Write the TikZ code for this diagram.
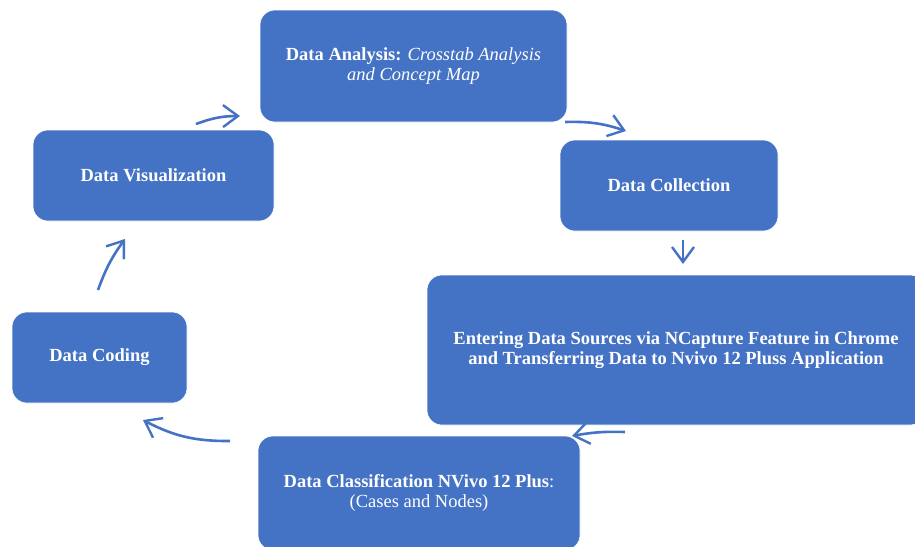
\documentclass[tikz,border=0pt]{standalone}
\usepackage{fontspec}
\setmainfont{Liberation Serif}
\usetikzlibrary{arrows.meta}
\definecolor{boxblue}{HTML}{4472C4}
\tikzset{
  stage/.style={draw=white, line width=0.6pt, fill=boxblue, rounded corners=15pt,
    text=white, align=center, inner sep=0pt,
    font=\fontsize{18.5}{20.5}\selectfont\bfseries},
  flow/.style={draw=boxblue, line width=2.6pt,
    -{Straight Barb[length=15pt,width=22pt,line width=2.4pt]}}
}
\begin{document}
\begin{tikzpicture}[x=1pt,y=-1pt]
\useasboundingbox (0,0) rectangle (915,546);
\begin{scope}
\clip (0,0) rectangle (915,546);
\node[stage, minimum width=307pt, minimum height=112pt] (ana) at (413.5,66)
  {Data Analysis: \mdseries\itshape Crosstab Analysis\\\mdseries\itshape and Concept Map};
\node[stage, minimum width=241pt, minimum height=91pt] (viz) at (153.5,175.5) {Data Visualization};
\node[stage, minimum width=218pt, minimum height=91pt] (col) at (669,185.5) {Data Collection};
\node[stage, minimum width=498pt, minimum height=150pt] (ent) at (676,350)
  {Entering Data Sources via NCapture Feature in Chrome\\and Transferring Data to Nvivo 12 Pluss Application};
\node[stage, minimum width=175pt, minimum height=91pt] (cod) at (99.5,357.5) {Data Coding};
\node[stage, minimum width=322pt, minimum height=114pt] (cls) at (419,493)
  {Data Classification NVivo 12 Plus\mdseries:\\\mdseries(Cases and Nodes)};
\end{scope}
\coordinate (a1s) at (196,124); \coordinate (a1e) at (240,116);
\coordinate (a2s) at (565,122); \coordinate (a2e) at (626,131);
\coordinate (a3s) at (683,240); \coordinate (a3e) at (683,264);
\coordinate (a4s) at (625,432); \coordinate (a4e) at (572,436);
\coordinate (a5s) at (230,441); \coordinate (a5e) at (143,420);
\coordinate (a6s) at (98,290);  \coordinate (a6e) at (125,239);
\draw[flow] (a1s) to[bend left=10] (a1e);
\draw[flow] (a2s) to[bend left=10] (a2e);
\draw[flow] (a3s) -- (a3e);
\draw[flow] (a4s) to[bend right=6] (a4e);
\draw[flow] (a5s) to[bend left=14] (a5e);
\draw[flow] (a6s) to[bend left=8] (a6e);
\end{tikzpicture}
\end{document}
